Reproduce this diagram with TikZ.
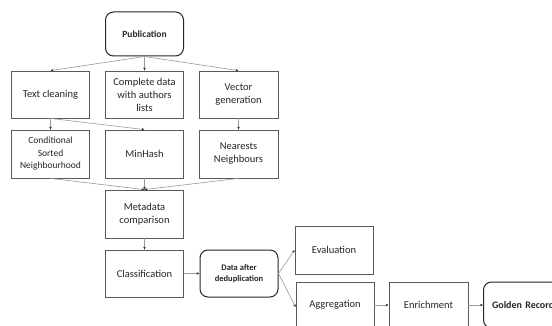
\documentclass[tikz,border=0pt]{standalone}
\usepackage{fontspec}
\setmainfont{Carlito}
\usetikzlibrary{arrows.meta}
\definecolor{boxline}{HTML}{5A5A5A}
\definecolor{linkline}{HTML}{9A9A9A}
\definecolor{textcol}{HTML}{262626}
\begin{document}
\begin{tikzpicture}[x=1pt,y=-1pt,
  stepbox/.style={draw=boxline,line width=0.8pt,fill=white,inner sep=1pt,
    minimum width=78pt,minimum height=47pt,align=center,text=textcol,
    font=\fontsize{10.5}{13}\selectfont},
  smallbox/.style={stepbox,font=\fontsize{9.5}{12.5}\selectfont},
  keybox/.style={draw=textcol,line width=1pt,rounded corners=8pt,fill=white,
    inner sep=1pt,minimum width=78pt,minimum height=47pt,align=center,
    text=textcol,font=\fontsize{8.5}{11}\selectfont\bfseries},
  link/.style={draw=linkline,line width=0.6pt,
    -{Stealth[length=3pt,width=2.6pt,color=black!80]}}]
\useasboundingbox (0,0) rectangle (552,326);
\clip (0,0) rectangle (552,326);
\fill[white] (0,0) rectangle (552,326);

% first stage
\node[keybox,minimum height=44pt,font=\fontsize{9.5}{12}\selectfont\bfseries] (pub) at (144.5,34) {Publication};
\node[stepbox] (txt) at (50.5,94.5) {Text cleaning};
\node[stepbox] (cdata) at (144.5,94.5) {Complete data\\with authors\\lists};
\node[stepbox,minimum width=79pt] (vec) at (238.5,94.5) {Vector\\generation};

% blocking
\node[smallbox,minimum height=48pt] (csn) at (50.5,154) {Conditional\\Sorted\\Neighbourhood};
\node[stepbox,minimum height=48pt] (mh) at (144.5,154) {MinHash};
\node[stepbox,minimum width=79pt,minimum height=48pt] (nn) at (238.5,154) {Nearests\\Neighbours};

% comparison and classification
\node[stepbox,minimum height=48pt] (meta) at (144.5,214) {Metadata\\comparison};
\node[stepbox] (cls) at (144.5,273.5) {Classification};
\node[keybox] (dad) at (239,273.5) {Data after\\deduplication};

% results
\node[stepbox,minimum height=48pt] (eval) at (334,250) {Evaluation};
\node[stepbox,minimum height=46pt] (agg) at (335,305) {Aggregation};
\node[stepbox,minimum width=79pt,minimum height=46pt] (enr) at (428.5,305) {Enrichment};
\node[keybox,anchor=west,minimum height=46pt,text width=80pt,inner xsep=8.5pt,
  align=left,font=\fontsize{10}{12}\selectfont\bfseries] (gold) at (483,305) {Golden Record};

% connectors
\draw[link] (pub.south) -- (txt.north);
\draw[link] (pub.south) -- (cdata.north);
\draw[link] (pub.south) -- (vec.north);
\draw[link] (txt.south) -- (csn.north);
\draw[link] (txt.south) -- (mh.north);
\draw[link] (vec.south) -- (nn.north);
\draw[link] (csn.south) -- (meta.north);
\draw[link] (mh.south) -- (meta.north);
\draw[link] (nn.south) -- (meta.north);
\draw[link] (meta.south) -- (cls.north);
\draw[link] (cls.east) -- (dad.west);
\draw[link] (dad.east) -- (eval.west);
\draw[link] (dad.east) -- ([yshift=-2pt]agg.west);
\draw[link] (agg.east) -- (enr.west);
\draw[link] (enr.east) -- (gold.west);
\end{tikzpicture}
\end{document}
